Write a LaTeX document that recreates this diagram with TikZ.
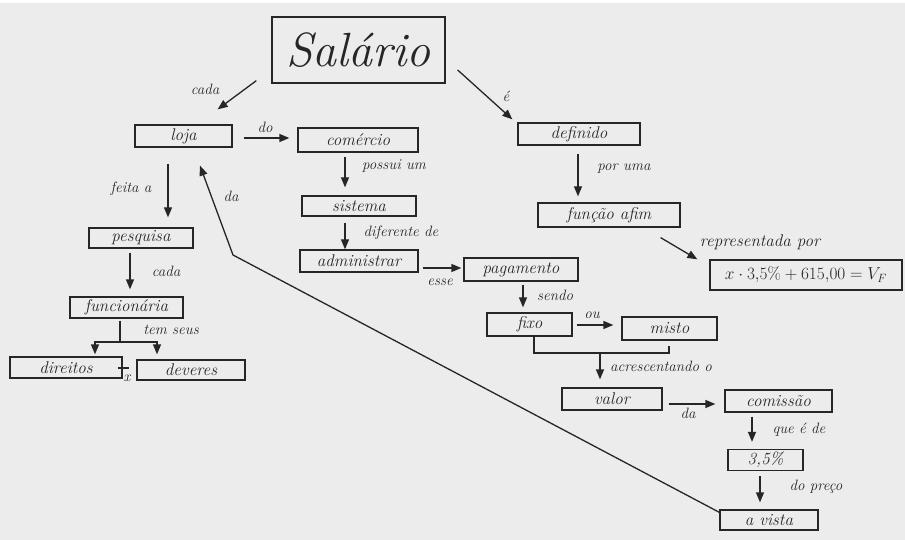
\documentclass[tikz,border=0pt]{standalone}
\usetikzlibrary{calc,arrows.meta}
\definecolor{paper}{HTML}{ECECEC}
\definecolor{ink}{HTML}{262626}
\tikzset{
  box/.style={draw=ink, line width=1.3pt, inner sep=0pt, text=ink,
    font=\fontsize{17}{17}\selectfont\itshape},
  arr/.style={draw=ink, line width=1.3pt, -{Triangle[length=10pt,width=8pt]}},
  ln/.style={draw=ink, line width=1.3pt},
  lab/.style={text=ink, font=\fontsize{15}{15}\selectfont\itshape, inner sep=0pt}
}
\begin{document}
\begin{tikzpicture}[x=1pt,y=-1pt]
% paper
\fill[paper] (0,0) rectangle (905,540);
\fill[white] (0,0) rectangle (905,3);
\useasboundingbox (0,0) rectangle (905,540);

% concepts
\node[box, minimum width=173, minimum height=66,
      font=\fontsize{48}{48}\selectfont\itshape] (sal) at (358.5,50) {Salário};
\node[box, minimum width=97,  minimum height=22] (loja) at (183.5,136) {loja};
\node[box, minimum width=120, minimum height=24] (com) at (358,140) {comércio};
\node[box, minimum width=114, minimum height=20] (sis) at (359,206) {sistema};
\node[box, minimum width=118, minimum height=22] (adm) at (359,261) {administrar};
\node[box, minimum width=114, minimum height=23] (pag) at (521,269.5) {pagamento};
\node[box, minimum width=85,  minimum height=23] (fixo) at (529.5,324.5) {fixo};
\node[box, minimum width=95,  minimum height=23] (misto) at (669.5,328.5) {misto};
\node[box, minimum width=100, minimum height=22] (valor) at (612,399) {valor};
\node[box, minimum width=107, minimum height=22] (comis) at (778.5,401) {comissão};
\node[box, minimum width=75,  minimum height=21] (tres) at (765.5,460) {3,5\%};
\node[box, minimum width=98,  minimum height=20] (vista) at (769,520) {a vista};
\node[box, minimum width=122, minimum height=22] (def) at (579,134) {definido};
\node[box, minimum width=142, minimum height=24] (fun) at (609,215) {função afim};
\node[box, minimum width=192, minimum height=30,
      font=\fontsize{17}{17}\selectfont] (form) at (806,275) {$x\cdot 3{,}5\%+615{,}00=V_F$};
\node[box, minimum width=104, minimum height=20] (pesq) at (141,238) {pesquisa};
\node[box, minimum width=113, minimum height=21] (func) at (126.5,307.5) {funcionária};
\node[box, minimum width=112, minimum height=21] (dir) at (66,367.5) {direitos};
\node[box, minimum width=108, minimum height=20] (dev) at (191,370) {deveres};

% links
\draw[arr] ($(sal.south west)+(-15,-3)$) -- ($(loja.north east)+(-15,-15)$);
\draw[arr] ($(sal.east)+(12,20)$) -- ($(def.north west)+(-5,-3)$);
\draw[arr] ($(loja.east)+(11,2)$) -- ($(com.west)+(-8,-2)$);
\draw[arr] ($(com.south)+(-13,4)$) -- ($(sis.north)+(-14,-8)$);
\draw[arr] ($(sis.south)+(-14,6)$) -- ($(adm.north)+(-14,0)$);
\draw[arr] ($(adm.east)+(4,7)$) -- ($(pag.west)+(-2,-1.5)$);
\draw[arr] ($(pag.south)+(2,3)$) -- ($(fixo.north)+(-6.5,-5)$);
\draw[arr] ($(fixo.east)+(4,0.5)$) -- ($(misto.west)+(-8,-3.5)$);
\draw[ln] ($(fixo.south)+(4.5,0)$) |- (600,353) -| ($(misto.south)+(-0.5,5)$);
\coordinate (join) at (600,353);
\draw[arr] (join) -- ($(valor.north)+(-12,-8)$);
\draw[arr] ($(valor.east)+(6,5)$) -- ($(comis.west)+(-9,3)$);
\draw[arr] ($(comis.south)+(-26.5,4)$) -- ($(tres.north)+(-13.5,-7)$);
\draw[arr] ($(tres.south)+(-5.5,5)$) -- ($(vista.north)+(-9,-7)$);
\draw[arr] ($(vista.north west)+(0,3)$) -- (233,255) -- ($(loja.south)+(16.5,18)$);
\draw[arr] ($(loja.south)+(-15.5,16)$) -- ($(pesq.north)+(27,-10)$);
\draw[arr] ($(pesq.south)+(-11,4)$) -- ($(func.north)+(3.5,-7)$);
\draw[ln] ($(func.south)+(-6.5,2)$) -- (120,342);
\coordinate (fork) at (120,342);
\draw[arr] (fork) -| ($(dir.north)+(29,-2)$);
\draw[arr] (fork) -| ($(dev.north)+(-34,-5)$);
\draw[ln] ($(dir.east)+(-5,0.5)$) -- ($(dev.west)+(-7,-2)$);
\draw[arr] ($(def.south)+(-1,8)$) -- ($(fun.north)+(-31,-6)$);
\draw[arr] ($(fun.south east)+(-20,10)$) -- ($(form.north west)+(-12,0)$);

% link words
\node[lab] at (205,89) {cada};
\node[lab] at (506,96) {é};
\node[lab] at (265,127) {do};
\node[lab] at (394,166) {possui um};
\node[lab] at (401,233) {diferente de};
\node[lab] at (440,282) {esse};
\node[lab] at (555,295) {sendo};
\node[lab] at (592,315) {ou};
\node[lab] at (661,366) {acrescentando o};
\node[lab] at (688,413) {da};
\node[lab] at (799,430) {que é de};
\node[lab] at (816,487) {do preço};
\node[lab] at (231,196) {da};
\node[lab] at (131,189) {feita a};
\node[lab] at (166,271) {cada};
\node[lab] at (171,330) {tem seus};
\node[lab] at (127,378) {x};
\node[lab] at (624,169) {por uma};
\node[lab, font=\fontsize{17}{17}\selectfont\itshape] at (760,242) {representada por};
\end{tikzpicture}
\end{document}
